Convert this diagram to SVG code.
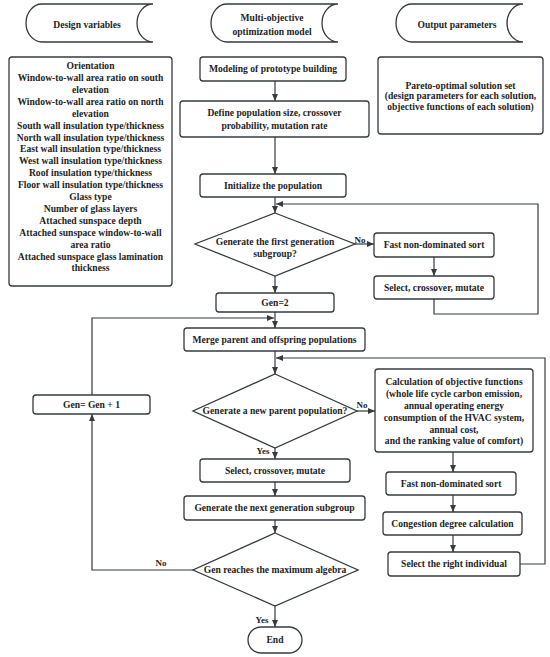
<svg xmlns="http://www.w3.org/2000/svg" width="550" height="657" viewBox="0 0 550 657">
<style>
.s{fill:#fff;stroke:#353b40;stroke-width:1.3}
.c{fill:none;stroke:#353b40;stroke-width:1.2}
text{font-family:"Liberation Serif","Times New Roman",serif;font-weight:bold;font-size:9.6px;fill:#1e1e1e;text-anchor:middle}
.l{font-size:9px}
</style>
<defs>
<marker id="a" markerUnits="userSpaceOnUse" markerWidth="8" markerHeight="7" refX="7" refY="3" orient="auto"><path d="M0,0 L7,3 L0,6 Z" fill="#353b40"/></marker>
</defs>
<rect width="550" height="657" fill="#fff"/>
<g id="h1"><path class="s" d="M42,4 H153 A16 19 0 0 0 153 42 H42 A16 19 0 0 1 42 4 Z"/><text x="87" y="27.5">Design variables</text></g>
<g id="h2"><path class="s" d="M227,4 H338 A16 19 0 0 0 338 42 H227 A16 19 0 0 1 227 4 Z"/><text x="272" y="20.5">Multi-objective</text><text x="272" y="34.5">optimization model</text></g>
<g id="h3"><path class="s" d="M412,4 H523 A16 19 0 0 0 523 42 H412 A16 19 0 0 1 412 4 Z"/><text x="457" y="27.5">Output parameters</text></g>
<g id="design"><rect class="s" x="9" y="57" width="163" height="229" rx="3"/>
<text x="90.5" y="69.1">Orientation</text>
<text x="90.5" y="81">Window-to-wall area ratio on south</text>
<text x="90.5" y="92.9">elevation</text>
<text x="90.5" y="104.8">Window-to-wall area ratio on north</text>
<text x="90.5" y="116.7">elevation</text>
<text x="90.5" y="128.6">South wall insulation type/thickness</text>
<text x="90.5" y="140.5">North wall insulation type/thickness</text>
<text x="90.5" y="152.4">East wall insulation type/thickness</text>
<text x="90.5" y="164.3">West wall insulation type/thickness</text>
<text x="90.5" y="176.2">Roof insulation type/thickness</text>
<text x="90.5" y="188.1">Floor wall insulation type/thickness</text>
<text x="90.5" y="200">Glass type</text>
<text x="90.5" y="211.9">Number of glass layers</text>
<text x="90.5" y="223.8">Attached sunspace depth</text>
<text x="90.5" y="235.7">Attached sunspace window-to-wall</text>
<text x="90.5" y="247.6">area ratio</text>
<text x="90.5" y="259.5">Attached sunspace glass lamination</text>
<text x="90.5" y="271.4">thickness</text>
</g>
<g id="output"><rect class="s" x="378" y="57" width="165" height="77" rx="3"/>
<text x="460.5" y="88.5">Pareto-optimal solution set</text>
<text x="460.5" y="99">(design parameters for each solution,</text>
<text x="460.5" y="109.5">objective functions of each solution)</text>
</g>
<g id="modeling"><rect class="s" x="200" y="57" width="146" height="24" rx="3"/><text x="273" y="72.4">Modeling of prototype building</text></g>
<g id="define"><rect class="s" x="180" y="101" width="189" height="36" rx="3"/><text x="274.5" y="116.4">Define population size, crossover</text><text x="274.5" y="129.4">probability, mutation rate</text></g>
<g id="init"><rect class="s" x="200" y="174" width="146" height="23" rx="3"/><text x="273" y="188.9">Initialize the population</text></g>
<g id="d1"><path class="s" d="M275,213 L355,244 L275,276 L195,244 Z"/><text x="275" y="245">Generate the first generation</text><text x="275" y="256.5">subgroup?</text></g>
<g id="fast1"><rect class="s" x="374" y="233" width="120" height="24" rx="3"/><text x="434" y="248.4">Fast non-dominated sort</text></g>
<g id="sel1"><rect class="s" x="374" y="276" width="120" height="23" rx="3"/><text x="434" y="290.9">Select, crossover, mutate</text></g>
<g id="gen2"><rect class="s" x="216" y="293" width="118" height="19" rx="3"/><text x="275" y="305.9">Gen=2</text></g>
<g id="merge"><rect class="s" x="184" y="328" width="181" height="23" rx="3"/><text x="274.5" y="342.9">Merge parent and offspring populations</text></g>
<g id="genplus"><rect class="s" x="33" y="395" width="117" height="19" rx="3"/><text x="91.5" y="408">Gen= Gen + 1</text></g>
<g id="d2"><path class="s" d="M275,374 L357,411 L275,448 L193,411 Z"/><text x="275" y="414.4">Generate a new parent population?</text></g>
<g id="calc"><rect class="s" x="375" y="369" width="158" height="83" rx="3"/>
<text x="454" y="385.4">Calculation of objective functions</text>
<text x="454" y="397.2">(whole life cycle carbon emission,</text>
<text x="454" y="409">annual operating energy</text>
<text x="454" y="420.8">consumption of the HVAC system,</text>
<text x="454" y="432.6">annual cost,</text>
<text x="454" y="444.4">and the ranking value of comfort)</text>
</g>
<g id="sel2"><rect class="s" x="200" y="459" width="150" height="23" rx="3"/><text x="275" y="473.9">Select, crossover, mutate</text></g>
<g id="nextgen"><rect class="s" x="184" y="496" width="181" height="24" rx="3"/><text x="274.5" y="511.4">Generate the next generation subgroup</text></g>
<g id="d3"><path class="s" d="M275,533 L358,570 L275,606 L193,570 Z"/><text x="275" y="573.4">Gen reaches the maximum algebra</text></g>
<g id="end"><rect class="s" x="248" y="627" width="54" height="26" rx="13"/><text x="275" y="643.4">End</text></g>
<g id="fast2"><rect class="s" x="386" y="472" width="130" height="23" rx="3"/><text x="451" y="486.9">Fast non-dominated sort</text></g>
<g id="cong"><rect class="s" x="383" y="512" width="139" height="23" rx="3"/><text x="452.5" y="526.9">Congestion degree calculation</text></g>
<g id="selright"><rect class="s" x="388" y="552" width="132" height="24" rx="3"/><text x="454" y="567.4">Select the right individual</text></g>
<g id="connectors">
<path class="c" marker-end="url(#a)" d="M275,81 V101"/>
<path class="c" marker-end="url(#a)" d="M275,137 V174"/>
<path class="c" marker-end="url(#a)" d="M275,197 V213"/>
<path class="c" marker-end="url(#a)" d="M355,244 H374"/>
<path class="c" marker-end="url(#a)" d="M434,257 V276"/>
<path class="c" marker-end="url(#a)" d="M434,299 V314 H538 V204 H276"/>
<path class="c" marker-end="url(#a)" d="M275,276 V293"/>
<path class="c" marker-end="url(#a)" d="M275,312 V328"/>
<path class="c" marker-end="url(#a)" d="M92,395 V318 H274"/>
<path class="c" marker-end="url(#a)" d="M275,351 V374"/>
<path class="c" marker-end="url(#a)" d="M357,411 H375"/>
<path class="c" marker-end="url(#a)" d="M453,452 V472"/>
<path class="c" marker-end="url(#a)" d="M453,495 V512"/>
<path class="c" marker-end="url(#a)" d="M453,535 V552"/>
<path class="c" marker-end="url(#a)" d="M520,564 H545 V358 H276"/>
<path class="c" marker-end="url(#a)" d="M275,448 V459"/>
<path class="c" marker-end="url(#a)" d="M275,482 V496"/>
<path class="c" marker-end="url(#a)" d="M275,520 V533"/>
<path class="c" marker-end="url(#a)" d="M193,570 H92 V414"/>
<path class="c" marker-end="url(#a)" d="M275,606 V627"/>
<text class="l" x="360" y="242.5">No</text>
<text class="l" x="362" y="408">No</text>
<text class="l" x="161" y="566">No</text>
<text class="l" x="263" y="453.5">Yes</text>
<text class="l" x="262" y="622.5">Yes</text>
</g>
</svg>
